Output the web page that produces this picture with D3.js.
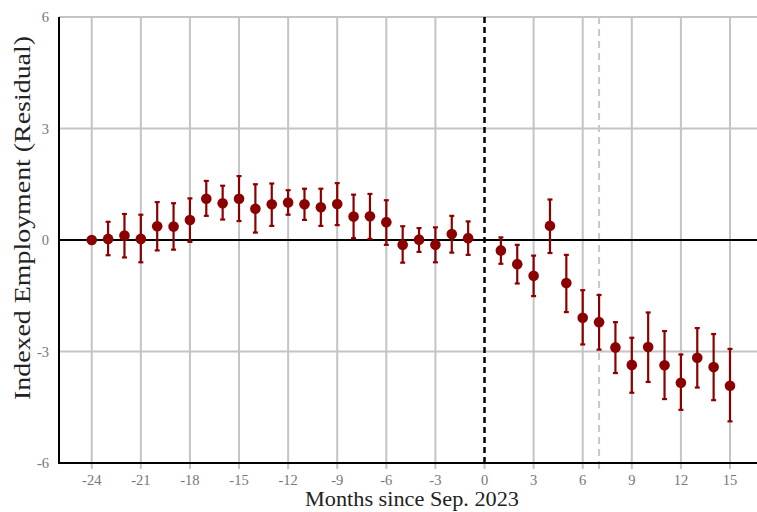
<!DOCTYPE html>
<html>
<head>
<meta charset="utf-8">
<script src="https://cdn.jsdelivr.net/npm/d3@7"></script>
<style>
  html, body { margin: 0; padding: 0; background: #fff; }
  svg { display: block; }
  text { font-family: "Liberation Serif", "DejaVu Serif", serif; }
</style>
</head>
<body>
<svg id="chart" width="757" height="512"></svg>
<script>
// Event-study estimates: months relative to Sep. 2023
const months = [-24,-23,-22,-21,-20,-19,-18,-17,-16,-15,-14,-13,-12,-11,-10,-9,-8,-7,-6,-5,-4,-3,-2,-1,
                1,2,3,4,5,6,7,8,9,10,11,12,13,14,15];
const estimates = [0.00,0.03,0.12,0.03,0.37,0.36,0.54,1.11,0.99,1.11,0.84,0.96,1.01,0.96,0.88,0.97,0.63,0.64,0.48,-0.13,0.01,-0.13,0.16,0.05,
                   -0.28,-0.65,-0.96,0.38,-1.16,-2.09,-2.21,-2.89,-3.36,-2.88,-3.37,-3.84,-3.17,-3.42,-3.92];
const upper = [0.00,0.49,0.70,0.68,1.02,0.99,1.12,1.59,1.46,1.72,1.50,1.52,1.34,1.38,1.38,1.53,1.22,1.24,1.07,0.37,0.32,0.34,0.65,0.50,
               0.07,-0.13,-0.42,1.09,-0.40,-1.35,-1.48,-2.21,-2.63,-1.95,-2.45,-3.08,-2.37,-2.53,-2.93];
const lower = [0.00,-0.41,-0.47,-0.60,-0.28,-0.26,-0.05,0.65,0.55,0.51,0.20,0.38,0.68,0.54,0.38,0.40,0.05,0.03,-0.13,-0.61,-0.32,-0.60,-0.34,-0.40,
               -0.64,-1.17,-1.51,-0.35,-1.94,-2.81,-2.95,-3.58,-4.11,-3.82,-4.28,-4.57,-3.97,-4.31,-4.88];

const xTicks = [-24,-21,-18,-15,-12,-9,-6,-3,0,3,6,9,12,15];
const yTicks = [-6,-3,0,3,6];
const eventMonth = 0;
const markerMonth = 7;

const svg = d3.select("#chart");
const plotLeft = 59, plotRight = 757, plotTop = 17, plotBottom = 463;

const x = d3.scaleLinear().domain([-26, 16.65]).range([plotLeft, plotRight]);
const y = d3.scaleLinear().domain([-6, 6]).range([plotBottom, plotTop]);

const gridColor = "#c4c4c4";
const red = "#8b0000";

// vertical gridlines (extend slightly below the axis as tick marks)
svg.append("g").selectAll("line").data(xTicks.filter(d => d !== eventMonth)).join("line")
  .attr("x1", d => x(d)).attr("x2", d => x(d))
  .attr("y1", plotTop).attr("y2", plotBottom + 6)
  .attr("stroke", gridColor).attr("stroke-width", 2);

// horizontal gridlines
svg.append("g").selectAll("line").data(yTicks.filter(d => d !== 0 && d !== -6)).join("line")
  .attr("x1", plotLeft).attr("x2", plotRight)
  .attr("y1", d => y(d)).attr("y2", d => y(d))
  .attr("stroke", gridColor).attr("stroke-width", 2);

// tick stubs at the event and marker months
svg.append("g").selectAll("line").data([eventMonth, markerMonth]).join("line")
  .attr("x1", d => x(d)).attr("x2", d => x(d))
  .attr("y1", plotBottom).attr("y2", plotBottom + 6)
  .attr("stroke", gridColor).attr("stroke-width", 2);

// marker month: light dashed line
svg.append("line")
  .attr("x1", x(markerMonth)).attr("x2", x(markerMonth))
  .attr("y1", plotTop).attr("y2", plotBottom)
  .attr("stroke", "#c8c8c8").attr("stroke-width", 2)
  .attr("stroke-dasharray", "7,5");

// zero line
svg.append("line")
  .attr("x1", plotLeft).attr("x2", plotRight)
  .attr("y1", y(0)).attr("y2", y(0))
  .attr("stroke", "#000").attr("stroke-width", 2);

// event line
svg.append("line")
  .attr("x1", x(eventMonth)).attr("x2", x(eventMonth))
  .attr("y1", plotTop).attr("y2", plotBottom)
  .attr("stroke", "#000").attr("stroke-width", 2.5)
  .attr("stroke-dasharray", "6,4");

// axes frame
svg.append("line").attr("x1", plotLeft).attr("x2", plotLeft).attr("y1", plotTop).attr("y2", plotBottom + 1)
  .attr("stroke", "#000").attr("stroke-width", 2);
svg.append("line").attr("x1", plotLeft - 1).attr("x2", plotRight).attr("y1", plotBottom).attr("y2", plotBottom)
  .attr("stroke", "#000").attr("stroke-width", 2);

// tick labels
svg.append("g").selectAll("text").data(xTicks).join("text")
  .attr("x", d => x(d)).attr("y", 485)
  .attr("text-anchor", "middle")
  .attr("font-size", 14.5).attr("fill", "#777")
  .text(d => d);

svg.append("g").selectAll("text").data(yTicks).join("text")
  .attr("x", plotLeft - 10).attr("y", d => y(d) + 5)
  .attr("text-anchor", "end")
  .attr("font-size", 14.5).attr("fill", "#777")
  .text(d => d);

// axis titles
svg.append("text")
  .attr("x", 412).attr("y", 506)
  .attr("text-anchor", "middle")
  .attr("font-size", 20).attr("fill", "#222")
  .attr("textLength", 214).attr("lengthAdjust", "spacingAndGlyphs")
  .text("Months since Sep. 2023");

svg.append("text")
  .attr("transform", "translate(30,218) rotate(-90)")
  .attr("text-anchor", "middle")
  .attr("font-size", 24).attr("fill", "#222")
  .attr("textLength", 364).attr("lengthAdjust", "spacingAndGlyphs")
  .text("Indexed Employment (Residual)");

// confidence intervals and point estimates
const data = months.map((m, i) => ({ m, est: estimates[i], hi: upper[i], lo: lower[i] }));
const bars = svg.append("g").selectAll("g").data(data.filter(d => d.hi !== d.lo)).join("g")
  .attr("stroke", red).attr("stroke-width", 2.2);
bars.append("line")
  .attr("x1", d => x(d.m)).attr("x2", d => x(d.m))
  .attr("y1", d => y(d.hi)).attr("y2", d => y(d.lo));
bars.append("line")
  .attr("x1", d => x(d.m) - 2.5).attr("x2", d => x(d.m) + 2.5)
  .attr("y1", d => y(d.hi)).attr("y2", d => y(d.hi));
bars.append("line")
  .attr("x1", d => x(d.m) - 2.5).attr("x2", d => x(d.m) + 2.5)
  .attr("y1", d => y(d.lo)).attr("y2", d => y(d.lo));

svg.append("g").selectAll("circle").data(data).join("circle")
  .attr("cx", d => x(d.m)).attr("cy", d => y(d.est))
  .attr("r", 5.3).attr("fill", red);
</script>
</body>
</html>
